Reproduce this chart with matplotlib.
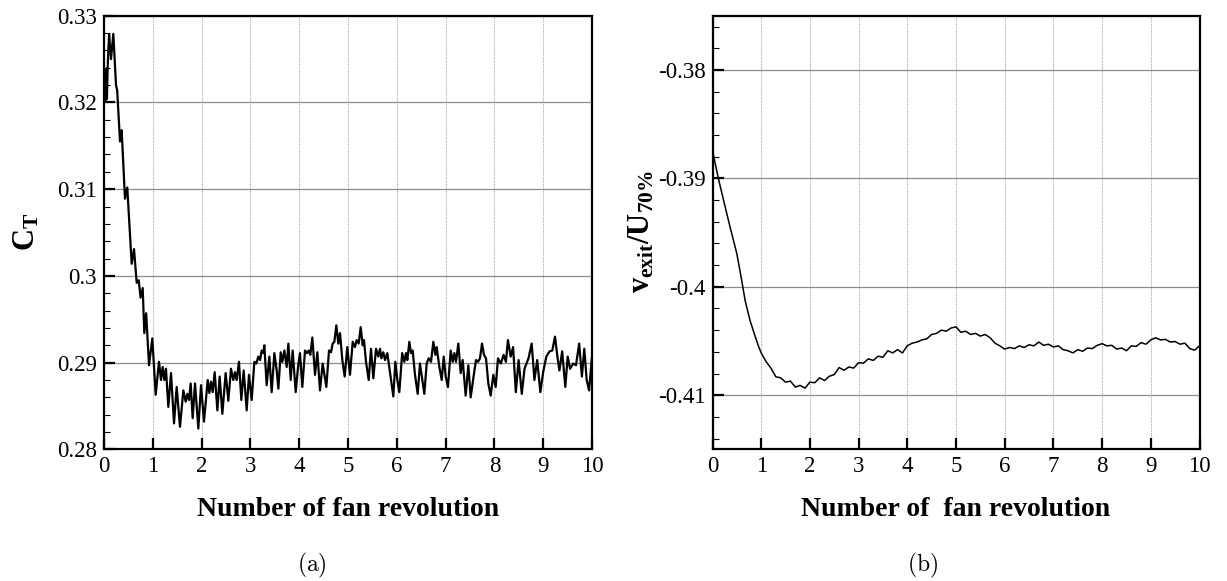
import matplotlib
matplotlib.use("Agg")
import matplotlib.pyplot as plt
from matplotlib.ticker import MultipleLocator, FormatStrFormatter

# ── Data ──────────────────────────────────────────────────────────────────────

# (a) thrust coefficient vs fan revolutions
ct_rev = [
    0.000, 0.015, 0.030, 0.045, 0.060, 0.075, 0.090, 0.105, 0.143, 0.191,
    0.246, 0.270, 0.328, 0.362, 0.430, 0.477, 0.567, 0.615, 0.670, 0.711,
    0.750, 0.793, 0.826, 0.864, 0.922, 0.990, 1.059, 1.127, 1.168, 1.202,
    1.237, 1.270, 1.318, 1.373, 1.435, 1.489, 1.557, 1.626, 1.674, 1.708,
    1.742, 1.776, 1.817, 1.865, 1.933, 1.988, 2.049, 2.125, 2.159, 2.193,
    2.227, 2.268, 2.323, 2.370, 2.425, 2.493, 2.548, 2.602, 2.650, 2.684,
    2.718, 2.766, 2.814, 2.862, 2.924, 2.971, 3.026, 3.081, 3.121, 3.162,
    3.197, 3.231, 3.265, 3.286, 3.333, 3.388, 3.436, 3.491, 3.539, 3.573,
    3.621, 3.655, 3.696, 3.744, 3.778, 3.826, 3.866, 3.928, 3.976, 4.016,
    4.064, 4.119, 4.160, 4.194, 4.228, 4.269, 4.324, 4.372, 4.426, 4.481,
    4.556, 4.611, 4.652, 4.686, 4.720, 4.761, 4.802, 4.836, 4.884, 4.932,
    4.986, 5.041, 5.096, 5.143, 5.178, 5.219, 5.260, 5.301, 5.328, 5.369,
    5.424, 5.471, 5.519, 5.574, 5.621, 5.656, 5.683, 5.724, 5.758, 5.806,
    5.861, 5.929, 5.970, 6.011, 6.052, 6.110, 6.154, 6.189, 6.216, 6.257,
    6.291, 6.325, 6.373, 6.428, 6.475, 6.523, 6.564, 6.612, 6.653, 6.701,
    6.749, 6.790, 6.817, 6.872, 6.920, 6.961, 7.002, 7.049, 7.104, 7.145,
    7.179, 7.213, 7.261, 7.309, 7.350, 7.411, 7.466, 7.514, 7.568, 7.623,
    7.664, 7.705, 7.746, 7.787, 7.828, 7.876, 7.924, 7.978, 8.026, 8.074,
    8.131, 8.188, 8.236, 8.277, 8.334, 8.383, 8.439, 8.496, 8.561, 8.617,
    8.699, 8.764, 8.820, 8.877, 8.942, 8.999, 9.064, 9.129, 9.186, 9.242,
    9.291, 9.332, 9.389, 9.453, 9.502, 9.551, 9.615, 9.672, 9.737, 9.793,
    9.842, 9.891, 9.940, 10.00,
]
ct_val = [
    0.3205, 0.3238, 0.3202, 0.3239, 0.3204, 0.3240, 0.3262, 0.3278, 0.3250, 0.3279,
    0.3220, 0.3214, 0.3155, 0.3168, 0.3089, 0.3102, 0.3014, 0.3031, 0.2992, 0.2995,
    0.2975, 0.2986, 0.2934, 0.2957, 0.2897, 0.2928, 0.2863, 0.2901, 0.2880, 0.2895,
    0.2880, 0.2893, 0.2849, 0.2888, 0.2830, 0.2872, 0.2826, 0.2868, 0.2855, 0.2864,
    0.2857, 0.2876, 0.2836, 0.2876, 0.2824, 0.2874, 0.2832, 0.2880, 0.2865, 0.2878,
    0.2866, 0.2889, 0.2845, 0.2884, 0.2841, 0.2888, 0.2856, 0.2893, 0.2880, 0.2889,
    0.2880, 0.2901, 0.2857, 0.2891, 0.2845, 0.2886, 0.2857, 0.2901, 0.2899, 0.2907,
    0.2903, 0.2914, 0.2911, 0.2920, 0.2874, 0.2907, 0.2866, 0.2911, 0.2891, 0.2870,
    0.2912, 0.2901, 0.2914, 0.2895, 0.2922, 0.2880, 0.2914, 0.2866, 0.2895, 0.2911,
    0.2872, 0.2914, 0.2911, 0.2914, 0.2909, 0.2929, 0.2886, 0.2912, 0.2868, 0.2899,
    0.2872, 0.2914, 0.2912, 0.2922, 0.2924, 0.2943, 0.2922, 0.2934, 0.2903, 0.2884,
    0.2918, 0.2886, 0.2924, 0.2918, 0.2926, 0.2922, 0.2941, 0.2920, 0.2926, 0.2901,
    0.2880, 0.2916, 0.2882, 0.2916, 0.2907, 0.2916, 0.2905, 0.2912, 0.2903, 0.2911,
    0.2889, 0.2861, 0.2901, 0.2880, 0.2866, 0.2911, 0.2901, 0.2911, 0.2903, 0.2924,
    0.2911, 0.2914, 0.2886, 0.2864, 0.2899, 0.2880, 0.2864, 0.2899, 0.2905, 0.2901,
    0.2924, 0.2909, 0.2918, 0.2895, 0.2880, 0.2907, 0.2884, 0.2872, 0.2914, 0.2901,
    0.2911, 0.2901, 0.2922, 0.2888, 0.2903, 0.2862, 0.2897, 0.2860, 0.2882, 0.2903,
    0.2901, 0.2905, 0.2922, 0.2909, 0.2905, 0.2876, 0.2862, 0.2886, 0.2872, 0.2905,
    0.2899, 0.2909, 0.2901, 0.2926, 0.2907, 0.2918, 0.2866, 0.2903, 0.2864, 0.2893,
    0.2905, 0.2922, 0.2880, 0.2903, 0.2866, 0.2889, 0.2907, 0.2913, 0.2914, 0.2930,
    0.2907, 0.2891, 0.2913, 0.2872, 0.2907, 0.2893, 0.2899, 0.2897, 0.2922, 0.2884,
    0.2916, 0.2880, 0.2868, 0.2907,
]

# (b) normalised exit velocity vs fan revolutions
v_rev = [
    0.00, 0.12, 0.26, 0.36, 0.50, 0.60, 0.67, 0.77, 0.87, 0.95,
    1.0, 1.1, 1.2, 1.3, 1.4, 1.5, 1.6, 1.7, 1.8, 1.9,
    2.0, 2.1, 2.2, 2.3, 2.4, 2.5, 2.6, 2.7, 2.8, 2.9,
    3.0, 3.1, 3.2, 3.3, 3.4, 3.5, 3.6, 3.7, 3.8, 3.9,
    4.0, 4.1, 4.2, 4.3, 4.4, 4.5, 4.6, 4.7, 4.8, 4.9,
    5.0, 5.1, 5.2, 5.3, 5.4, 5.5, 5.6, 5.7, 5.8, 5.9,
    6.0, 6.1, 6.2, 6.3, 6.4, 6.5, 6.6, 6.7, 6.8, 6.9,
    7.0, 7.1, 7.2, 7.3, 7.4, 7.5, 7.6, 7.7, 7.8, 7.9,
    8.0, 8.1, 8.2, 8.3, 8.4, 8.5, 8.6, 8.7, 8.8, 8.9,
    9.0, 9.1, 9.2, 9.3, 9.4, 9.5, 9.6, 9.7, 9.8, 9.9,
    10.0,
]
v_val = [
    -0.38744, -0.39000, -0.39263, -0.39448, -0.39695, -0.39942, -0.40127, -0.40310, -0.40450, -0.40555,
    -0.40610, -0.40690, -0.40750, -0.40830, -0.40840, -0.40880, -0.40870, -0.40925, -0.40910, -0.40935,
    -0.40880, -0.40885, -0.40840, -0.40865, -0.40825, -0.40810, -0.40745, -0.40770, -0.40740, -0.40750,
    -0.40700, -0.40705, -0.40665, -0.40680, -0.40640, -0.40650, -0.40590, -0.40610, -0.40580, -0.40610,
    -0.40545, -0.40520, -0.40510, -0.40490, -0.40480, -0.40440, -0.40430, -0.40400, -0.40410, -0.40380,
    -0.40370, -0.40420, -0.40410, -0.40440, -0.40430, -0.40455, -0.40440, -0.40470, -0.40520, -0.40545,
    -0.40575, -0.40560, -0.40570, -0.40545, -0.40560, -0.40535, -0.40545, -0.40510, -0.40540, -0.40530,
    -0.40555, -0.40545, -0.40580, -0.40590, -0.40610, -0.40580, -0.40595, -0.40565, -0.40570, -0.40540,
    -0.40525, -0.40545, -0.40540, -0.40575, -0.40565, -0.40590, -0.40545, -0.40550, -0.40515, -0.40530,
    -0.40490, -0.40470, -0.40490, -0.40485, -0.40510, -0.40505, -0.40530, -0.40520, -0.40570, -0.40585,
    -0.40545,
]

x_ticks = [0, 1, 2, 3, 4, 5, 6, 7, 8, 9, 10]

# ── Style ─────────────────────────────────────────────────────────────────────

plt.rcParams["font.family"] = ["Liberation Serif", "DejaVu Serif"]
plt.rcParams["axes.unicode_minus"] = False
plt.rcParams["mathtext.fontset"] = "custom"
plt.rcParams["mathtext.rm"] = "Liberation Serif"
plt.rcParams["mathtext.bf"] = "Liberation Serif:bold"
plt.rcParams["mathtext.it"] = "Liberation Serif:italic"

TICK_FS = 16.5
LABEL_FS = 20


def style_axes(ax, ylim, ymajor):
    ax.set_xlim(0, 10)
    ax.set_ylim(*ylim)
    ax.set_xticks(x_ticks)
    ax.yaxis.set_major_locator(MultipleLocator(ymajor))
    ax.yaxis.set_minor_locator(MultipleLocator(ymajor / 5))
    ax.yaxis.set_major_formatter(FormatStrFormatter("%g"))
    ax.tick_params(axis="both", which="major", direction="in", length=8, width=1.6,
                   labelsize=TICK_FS, pad=5, top=False, right=False)
    ax.tick_params(axis="y", which="minor", direction="in", length=4, width=0.8,
                   right=False)
    ax.tick_params(axis="x", which="minor", bottom=False)
    for sp in ax.spines.values():
        sp.set_linewidth(1.6)
    ax.grid(axis="y", which="major", color="#8c8c8c", linewidth=0.9, linestyle="-")
    ax.grid(axis="x", which="major", color="#a8a8a8", linewidth=0.8, linestyle=(0, (1, 1)))
    ax.set_axisbelow(True)


fig = plt.figure(figsize=(12.27, 5.81), dpi=100)
ax1 = fig.add_axes([104 / 1227, 1 - 449.4 / 581, 488 / 1227, 433.7 / 581])
ax2 = fig.add_axes([712.5 / 1227, 1 - 449.4 / 581, 487 / 1227, 433.7 / 581])

# (a)
ax1.plot(ct_rev, ct_val, color="black", linewidth=1.6, solid_joinstyle="round")
style_axes(ax1, (0.28, 0.33), 0.01)

# (b)
ax2.plot(v_rev, v_val, color="black", linewidth=1.1, solid_joinstyle="round")
style_axes(ax2, (-0.415, -0.375), 0.01)

# Axis titles
fig.text(27 / 1227, 1 - 232 / 581, r"$\mathbf{C_T}$", rotation=90,
         ha="center", va="center", fontsize=22)
fig.text(642 / 1227, 1 - 232 / 581, r"$\mathbf{v_{exit}/U_{70\%}}$", rotation=90,
         ha="center", va="center", fontsize=22)
fig.text(348 / 1227, 1 - 509 / 581, "Number of fan revolution",
         ha="center", va="center", fontsize=LABEL_FS, fontweight="bold")
fig.text(956 / 1227, 1 - 509 / 581, "Number of  fan revolution",
         ha="center", va="center", fontsize=LABEL_FS, fontweight="bold")

# Sub-figure captions
fig.text(312 / 1227, 1 - 565 / 581, r"$\mathrm{(a)}$", math_fontfamily="cm",
         ha="center", va="center", fontsize=17)
fig.text(923 / 1227, 1 - 565 / 581, r"$\mathrm{(b)}$", math_fontfamily="cm",
         ha="center", va="center", fontsize=17)

fig.savefig("out.png", dpi=100)
